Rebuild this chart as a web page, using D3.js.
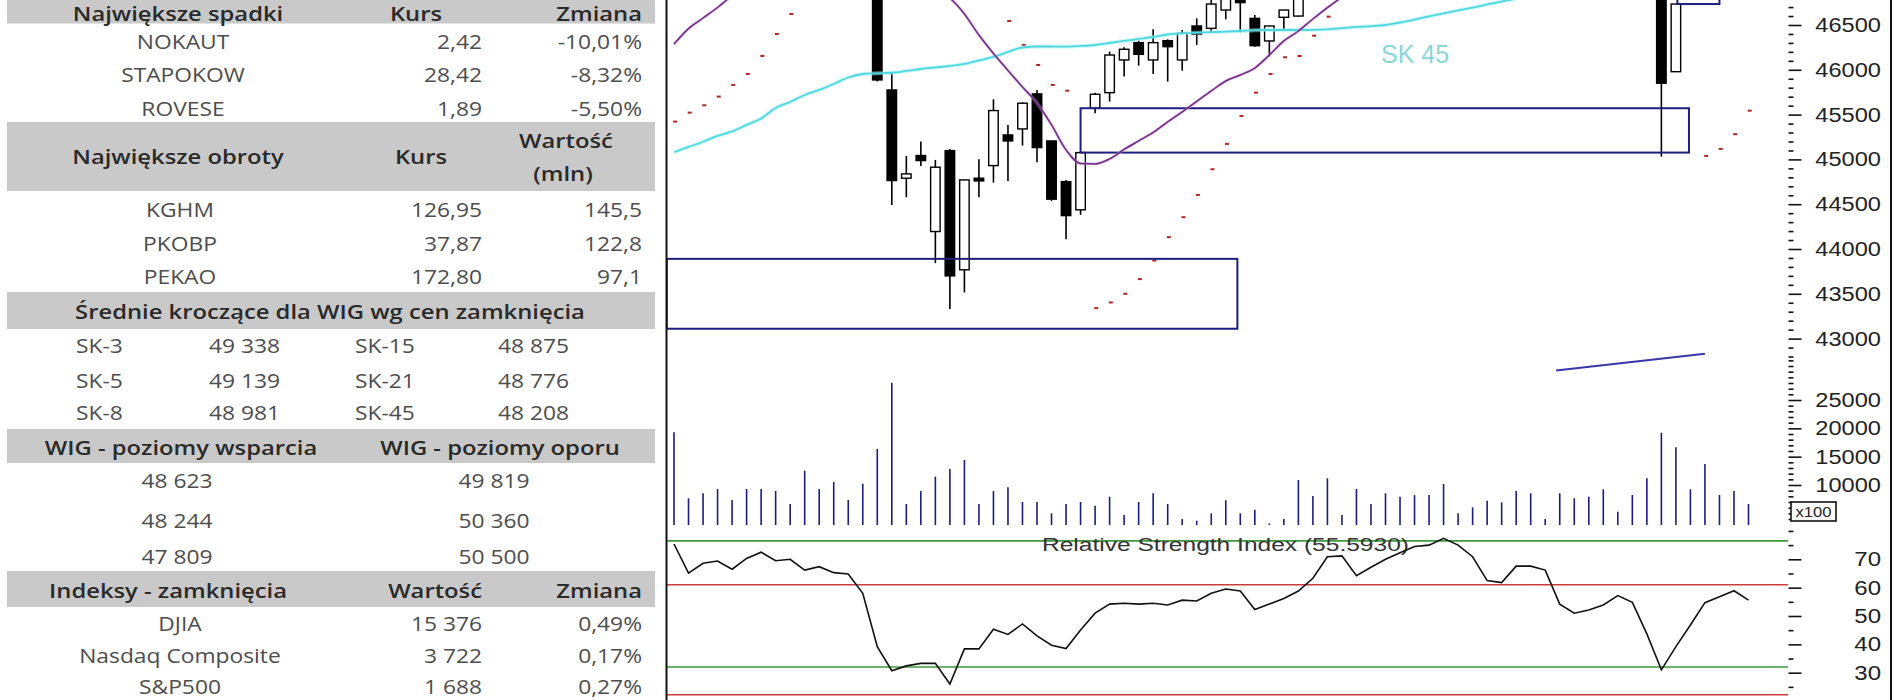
<!DOCTYPE html>
<html>
<head>
<meta charset="utf-8">
<script src="https://cdn.jsdelivr.net/npm/d3@7/dist/d3.min.js"></script>
<style>
html,body{margin:0;padding:0;background:#fff;}
svg{display:block;}
</style>
</head>
<body>
<svg id="chart" width="1900" height="700"></svg>
<script>
// ---------------- Table data ----------------
const dropsHeader = ["Największe spadki", "Kurs", "Zmiana"];
const dropsRows = [["NOKAUT","2,42","-10,01%"],["STAPOKOW","28,42","-8,32%"],["ROVESE","1,89","-5,50%"]];
const turnoverHeader = ["Największe obroty", "Kurs", "Wartość", "(mln)"];
const turnoverRows = [["KGHM","126,95","145,5"],["PKOBP","37,87","122,8"],["PEKAO","172,80","97,1"]];
const smaHeader = "Średnie kroczące dla WIG wg cen zamknięcia";
const smaRows = [["SK-3","49 338","SK-15","48 875"],["SK-5","49 139","SK-21","48 776"],["SK-8","48 981","SK-45","48 208"]];
const levelsHeader = ["WIG - poziomy wsparcia", "WIG - poziomy oporu"];
const supportLevels = ["48 623","48 244","47 809"];
const resistanceLevels = ["49 819","50 360","50 500"];
const indicesHeader = ["Indeksy - zamknięcia","Wartość","Zmiana"];
const indicesRows = [["DJIA","15 376","0,49%"],["Nasdaq Composite","3 722","0,17%"],["S&P500","1 688","0,27%"]];

// ---------------- Chart data (one entry per session) ----------------
const opens = [
46950,47120,46990,47090,47130,47040,47180,47300,47220,47230,
47100,47150,47070,47050,46880,45775,44790,45043,44195,45098,
43768,44790,44931,45273,45340,45731,45206,44752,44437,45571,
45745,46110,46303,46110,46325,46110,46489,46463,46667,46820,
46574,46322,46586,46600,46880,47020,47320,47330,47180,47270,
47380,47470,47580,47610,47760,47700,47580,47350,47330,47500,
47500,47460,47180,47090,47130,47190,47300,47230,46880,45979,
46950,47200,47450,47580,47750];
const highs = [
47150,47140,47120,47160,47140,47200,47320,47330,47260,47240,
47170,47160,47110,47060,46900,45968,45039,45199,44994,45117,
44771,45002,45671,45385,45638,45775,45206,44771,45076,45745,
46203,46251,46325,46452,46340,46444,46574,46850,46900,46860,
46612,46489,46667,46900,47050,47350,47380,47340,47300,47400,
47500,47600,47650,47780,47790,47720,47600,47400,47520,47540,
47520,47470,47200,47180,47220,47320,47320,47250,46900,46734,
47250,47500,47620,47800,47780];
const lows = [
46920,46950,46960,47050,47000,47020,47160,47180,47170,47080,
47060,47040,47020,46850,45870,44492,44578,44927,43842,43329,
43515,44578,44741,44760,45154,44969,44537,44110,44381,45515,
45645,45924,46046,45954,45868,45990,46277,46414,46563,46419,
46258,46147,46452,46593,46850,47000,47250,47150,47120,47230,
47350,47440,47520,47590,47650,47560,47300,47280,47310,47440,
47420,47150,47050,47040,47100,47170,47200,46850,45031,45979,
46900,47150,47400,47550,47550];
const closes = [
47120,46990,47090,47130,47040,47180,47300,47220,47230,47100,
47150,47070,47050,46880,45887,44764,44838,44987,44913,43700,
44771,44760,45545,45206,45627,45132,44556,44373,45076,45727,
46165,46229,46173,46303,46258,46407,46396,46734,46820,46750,
46269,46489,46667,46880,47020,47320,47330,47180,47270,47380,
47470,47580,47610,47760,47700,47580,47350,47330,47500,47500,
47460,47180,47090,47130,47190,47300,47230,46880,45850,46734,
47200,47450,47580,47750,47600];
const sma45 = [
45080,45139,45197,45262,45312,45385,45457,45574,45641,45719,
45775,45842,45914,45953,45961,45967,45987,46009,46026,46043,
46065,46104,46143,46199,46249,46260,46260,46259,46266,46277,
46299,46322,46344,46366,46394,46407,46414,46420,46425,46433,
46442,46444,46444,46444,46446,46452,46464,46478,46487,46500,
46528,46561,46597,46630,46662,46695,46729,46762,46796,46850,
46920,47000,47080,47160,47250,47340,47430,47520,47600,47690,
47780,47870,47960,48080,48208];
const sma15 = [
46287,46460,46578,46695,46830,46960,47080,47200,47290,47360,
47400,47410,47380,47330,47240,47160,47060,46980,46900,46800,
46623,46388,46182,45993,45808,45630,45385,45106,44955,44950,
45005,45111,45206,45301,45418,45530,45647,45764,45875,45942,
46020,46165,46322,46433,46567,46695,46812,46930,47050,47180,
47300,47420,47540,47660,47780,47880,47970,48050,48120,48180,
48230,48270,48300,48320,48330,48330,48310,48260,48180,48100,
48060,48020,48000,47990,47980];
const sar = [
45422,45522,45604,45701,45831,45954,46155,46400,46623,46820,
46990,47130,47250,47340,47700,47650,47560,47470,47380,47250,
47050,46900,46850,46545,46277,46054,45831,45767,null,43340,
43403,43500,43664,43871,44132,44355,44604,44890,45173,45485,
45745,45954,46140,46154,46381,46593,46800,46900,47000,47080,
47150,47230,47300,47380,47450,47520,47580,47650,47700,47750,
47800,47850,47900,47950,48000,48050,48100,48150,48800,48700,
48600,45039,45117,45281,45544];
const volumes = [
19300,7650,8535,9290,7350,9290,9290,8940,6650,12520,
9290,10530,7350,10230,16350,28060,6650,8940,11470,12820,
14410,6650,8940,9590,7000,7000,5000,6650,7000,6350,
7940,4700,7000,8535,6650,4000,3700,5000,7300,5000,
5640,3240,4000,10880,8060,11180,4700,9290,6650,8535,
7940,8235,8235,10180,5000,6060,7230,6940,8940,8535,
4000,8535,7650,7940,9240,5290,8235,11180,19230,16650,
9240,13700,8235,8940,6650];
const rsi = [
75.4,65.1,68.6,69.4,66.5,70.3,72.5,69.5,70.0,66.2,
67.4,65.3,64.8,58.0,39.2,30.7,32.4,33.3,33.3,26.0,
38.4,38.4,45.3,43.5,47.2,43.0,39.7,38.5,45.1,51.0,
54.2,54.5,54.2,54.5,53.9,55.6,55.3,58.0,59.5,58.8,
52.3,54.2,56.2,58.8,63.3,70.9,71.2,64.2,67.2,70.0,
72.3,74.5,75.0,77.4,75.0,70.9,62.5,61.8,67.6,67.6,
66.2,54.2,51.0,52.1,53.9,57.2,54.8,43.7,31.0,39.2,
46.8,54.7,56.8,58.9,55.593];
const rsiLast = "55.5930";
const rsiLevels = [76.5, 61, 32, 22.2];
// gap zones (session index from/to, price low/high)
const zoneFrom = [-0.5, 28.0, 69.1];
const zoneTo = [38.8, 69.9, 72.0];
const zoneLow = [43110, 45076, 46734];
const zoneHigh = [43890, 45571, 46950];
// trend line (session index, price)
const trendIdx = [60.75, 71.0];
const trendVal = [42644, 42831];
// axis ticks
const priceMajor = [43000,43500,44000,44500,45000,45500,46000,46500];
const volumeMajor = [10000,15000,20000,25000];
const rsiMajor = [30,40,50,60,70];
const volumeBase = 2940;

// ---------------- Drawing ----------------
const svg = d3.select("#chart");
const CF = "'Liberation Sans', Arial, sans-serif";
const TF = "'Open Sans', 'Noto Sans', sans-serif";
const days = d3.range(closes.length);
const plotL = 666.5, plotR = 1788, axisX = 1788.5;

const x = d3.scaleLinear().domain([0, 74]).range([674, 1748.5]);
const yP = d3.scaleLinear().domain([43000, 46500]).range([338.6, 25]);
const yV = d3.scaleLinear().domain([10000, 25000]).range([485, 400]);
const yR = d3.scaleLinear().domain([30, 70]).range([672.7, 559.3]);

// ----- table -----
const tg = svg.append("g");
function band(y0, y1){ tg.append("rect").attr("x",7).attr("y",y0).attr("width",648).attr("height",y1-y0).attr("fill","#c9c9c9"); }
function cell(s, xx, yy, anchor, bold){
  const t = tg.append("text").attr("x",0).attr("y",yy)
    .attr("dominant-baseline","central").attr("font-family",TF)
    .attr("font-size", bold ? 20.5 : 20).attr("font-weight", bold ? 600 : 400)
    .attr("fill", bold ? "#2a2a2a" : "#4d4d4d").text(s);
  const w = t.node().getComputedTextLength() * (bold ? 1.16 : 1.14);
  const x0 = anchor === "middle" ? xx - w/2 : anchor === "end" ? xx - w : xx;
  t.attr("x", x0).attr("textLength", w).attr("lengthAdjust","spacingAndGlyphs");
}
band(-5, 23.5); band(122, 191); band(292, 329); band(429, 463); band(571, 607);
cell(dropsHeader[0], 178, 12.5, "middle", true);
cell(dropsHeader[1], 416, 12.5, "middle", true);
cell(dropsHeader[2], 642, 12.5, "end", true);
[41, 74.5, 108].forEach((yy,k)=>{
  cell(dropsRows[k][0], 183, yy, "middle"); cell(dropsRows[k][1], 482, yy, "end"); cell(dropsRows[k][2], 642, yy, "end");
});
cell(turnoverHeader[0], 178, 156, "middle", true);
cell(turnoverHeader[1], 421, 156, "middle", true);
cell(turnoverHeader[2], 566, 140, "middle", true);
cell(turnoverHeader[3], 563, 173, "middle", true);
[209.5, 243, 276.5].forEach((yy,k)=>{
  cell(turnoverRows[k][0], 180, yy, "middle"); cell(turnoverRows[k][1], 482, yy, "end"); cell(turnoverRows[k][2], 642, yy, "end");
});
cell(smaHeader, 330, 311, "middle", true);
[345, 380, 412].forEach((yy,k)=>{
  cell(smaRows[k][0], 76, yy, "start"); cell(smaRows[k][1], 209, yy, "start");
  cell(smaRows[k][2], 355, yy, "start"); cell(smaRows[k][3], 498, yy, "start");
});
cell(levelsHeader[0], 181, 447, "middle", true);
cell(levelsHeader[1], 500, 447, "middle", true);
[480, 520, 556].forEach((yy,k)=>{
  cell(supportLevels[k], 177, yy, "middle"); cell(resistanceLevels[k], 494, yy, "middle");
});
cell(indicesHeader[0], 168, 590, "middle", true);
cell(indicesHeader[1], 482, 590, "end", true);
cell(indicesHeader[2], 642, 590, "end", true);
[623, 655, 686].forEach((yy,k)=>{
  cell(indicesRows[k][0], 180, yy, "middle"); cell(indicesRows[k][1], 482, yy, "end"); cell(indicesRows[k][2], 642, yy, "end");
});

// ----- price pane -----
svg.append("defs").append("clipPath").attr("id","pclip").append("rect")
  .attr("x",plotL).attr("y",-20).attr("width",plotR-plotL).attr("height",410);
const pg = svg.append("g").attr("clip-path","url(#pclip)");

const candles = pg.append("g").selectAll("g").data(days).join("g");
candles.append("line")
  .attr("x1", i=>x(i)).attr("x2", i=>x(i))
  .attr("y1", i=>yP(highs[i])).attr("y2", i=>yP(lows[i]))
  .attr("stroke","#000").attr("stroke-width",1.6);
candles.append("rect")
  .attr("x", i=>x(i)-4.75).attr("width",9.5)
  .attr("y", i=>yP(Math.max(opens[i],closes[i])))
  .attr("height", i=>Math.max(1.5, Math.abs(yP(opens[i])-yP(closes[i]))))
  .attr("fill", i=> closes[i] < opens[i] ? "#000" : "#fff")
  .attr("stroke","#000").attr("stroke-width",1.4);

// parabolic SAR dashes
pg.append("g").selectAll("rect").data(days.filter(i=>sar[i]!==null)).join("rect")
  .attr("x", i=>x(i)-0.8).attr("y", i=>yP(sar[i])-1).attr("width",4).attr("height",2)
  .attr("fill","#b42424");

// gap zones
pg.append("g").selectAll("rect").data(zoneFrom).join("rect")
  .attr("x",(d,k)=>x(zoneFrom[k])).attr("width",(d,k)=>x(zoneTo[k])-x(zoneFrom[k]))
  .attr("y",(d,k)=>yP(zoneHigh[k])).attr("height",(d,k)=>yP(zoneLow[k])-yP(zoneHigh[k]))
  .attr("fill","none").attr("stroke","#1e1e82").attr("stroke-width",2);

// moving averages
const lineP = d3.line().x((d,i)=>x(i)).y(d=>yP(d)).curve(d3.curveMonotoneX);
pg.append("path").attr("d", lineP(sma45)).attr("fill","none")
  .attr("stroke","#9ff0f2").attr("stroke-width",4).attr("opacity",0.5);
pg.append("path").attr("d", lineP(sma45)).attr("fill","none")
  .attr("stroke","#4fd8df").attr("stroke-width",1.8);
pg.append("path").attr("d", lineP(sma15)).attr("fill","none")
  .attr("stroke","#c9a0d4").attr("stroke-width",3.2).attr("opacity",0.5);
pg.append("path").attr("d", lineP(sma15)).attr("fill","none")
  .attr("stroke","#6e2a80").attr("stroke-width",1.5);

// trend line
pg.append("line")
  .attr("x1", x(trendIdx[0])).attr("y1", yP(trendVal[0]))
  .attr("x2", x(trendIdx[1])).attr("y2", yP(trendVal[1]))
  .attr("stroke","#3838a8").attr("stroke-width",2);

svg.append("text").attr("x",1381).attr("y",63).attr("font-family",CF)
  .attr("font-size",25).attr("fill","#8ad6d6").text("SK 45");

// ----- volume pane -----
svg.append("g").selectAll("line").data(days).join("line")
  .attr("x1", i=>x(i)).attr("x2", i=>x(i))
  .attr("y1", yV(volumeBase)).attr("y2", i=>yV(volumes[i]))
  .attr("stroke","#1c1c7c").attr("stroke-width",1.6);

// ----- RSI pane -----
const levelColors = ["#3c9a3c","#cc3c3c","#3c9a3c","#cc3c3c"];
svg.append("g").selectAll("line").data(rsiLevels).join("line")
  .attr("x1", plotL).attr("x2", plotR)
  .attr("y1", d=>yR(d)).attr("y2", d=>yR(d))
  .attr("stroke",(d,k)=>levelColors[k]).attr("stroke-width",1.6);
svg.append("text").attr("x",1042).attr("y",551).attr("font-family",CF)
  .attr("font-size",18).attr("fill","#333")
  .attr("textLength",367).attr("lengthAdjust","spacingAndGlyphs")
  .text("Relative Strength Index (" + rsiLast + ")");
svg.append("path").attr("d", d3.line().x((d,i)=>x(i)).y(d=>yR(d))(rsi))
  .attr("fill","none").attr("stroke","#111").attr("stroke-width",1.6);

// ----- right axes -----
function rightAxis(scale, minorVals, majorVals, stretch){
  const gm = svg.append("g").attr("transform",`translate(${axisX},0)`)
    .call(d3.axisRight(scale).tickValues(minorVals).tickSize(5).tickFormat(""));
  gm.select(".domain").remove();
  gm.selectAll("line").attr("stroke","#111").attr("stroke-width",1.6);
  const gM = svg.append("g").attr("transform",`translate(${axisX},0)`)
    .call(d3.axisRight(scale).tickValues(majorVals).tickSize(13).tickFormat(d3.format("d")));
  gM.select(".domain").remove();
  gM.selectAll("line").attr("stroke","#111").attr("stroke-width",1.6);
  gM.selectAll("text").attr("text-anchor","start")
    .attr("font-family",CF).attr("font-size",20).attr("fill","#222")
    .each(function(){
      const w = this.getComputedTextLength() * stretch;
      d3.select(this).attr("x", 1881 - axisX - w)
        .attr("textLength", w).attr("lengthAdjust","spacingAndGlyphs"); });
}
rightAxis(yP, d3.range(42800, 46801, 100).filter(v=>v%500!==0), priceMajor, 1.18);
rightAxis(yV, d3.range(4000, 32001, 1000).filter(v=>!volumeMajor.includes(v)), volumeMajor, 1.18);
rightAxis(yR, [20,25,35,45,55,65,75,80], rsiMajor, 1.2);

// x100 box
svg.append("rect").attr("x",1791).attr("y",502).attr("width",45).attr("height",19)
  .attr("fill","#fff").attr("stroke","#111").attr("stroke-width",1.6);
svg.append("text").attr("x",1795.5).attr("y",516.5)
  .attr("font-family",CF).attr("font-size",14).attr("fill","#222")
  .attr("textLength",36).attr("lengthAdjust","spacingAndGlyphs").text("x100");

// borders
svg.append("line").attr("x1",666.5).attr("x2",666.5).attr("y1",0).attr("y2",700).attr("stroke","#111").attr("stroke-width",2);
svg.append("line").attr("x1",1891).attr("x2",1891).attr("y1",0).attr("y2",700).attr("stroke","#111").attr("stroke-width",2);
</script>
</body>
</html>
